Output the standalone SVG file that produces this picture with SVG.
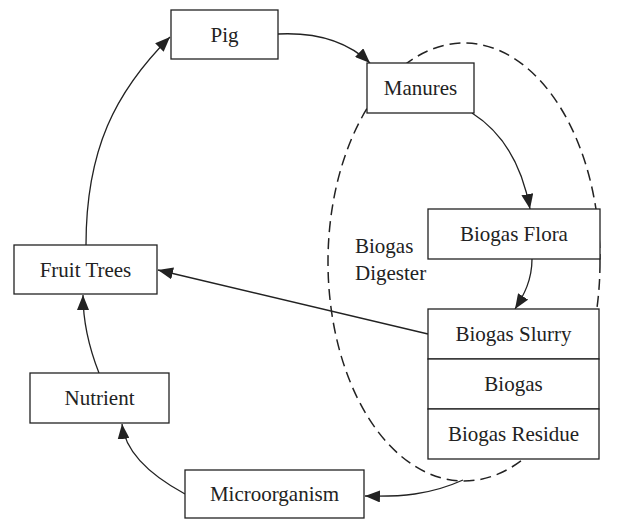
<svg xmlns="http://www.w3.org/2000/svg" width="632" height="519" viewBox="0 0 632 519">
<style>
.box{fill:#fff;stroke:#222;stroke-width:1.3}
.lbl{font-family:"Liberation Serif","Times New Roman",serif;font-size:21px;fill:#222;text-anchor:middle}
.free{font-family:"Liberation Serif","Times New Roman",serif;font-size:21px;fill:#222}
.conn{fill:none;stroke:#222;stroke-width:1.3}
.dash{fill:none;stroke:#222;stroke-width:1.5;stroke-dasharray:11 6}
</style>
<defs>
<marker id="ah" markerUnits="userSpaceOnUse" markerWidth="16" markerHeight="12" refX="15" refY="6" orient="auto">
<path d="M0,0 L15,6 L0,12 Z" fill="#222"/>
</marker>
</defs>
<rect width="632" height="519" fill="#fff"/>
<ellipse id="digester" class="dash" cx="464" cy="262" rx="136" ry="219"/>
<text class="free" x="355" y="253">Biogas</text>
<text class="free" x="355" y="280">Digester</text>
<g id="connectors">
<path class="conn" marker-end="url(#ah)" d="M86,245 C86,150 115,92 170,37"/>
<path class="conn" marker-end="url(#ah)" d="M278,34 C318,32 348,42 370,63"/>
<path class="conn" marker-end="url(#ah)" d="M472,113 C502,132 522,165 530,209"/>
<path class="conn" marker-end="url(#ah)" d="M532,259 C532,280 524,295 515,309"/>
<path class="conn" marker-end="url(#ah)" d="M428,334 L158,270"/>
<path class="conn" marker-end="url(#ah)" d="M99,373 C88,345 83,322 83,295"/>
<path class="conn" marker-end="url(#ah)" d="M185,494 C150,475 125,452 122,424"/>
<path class="conn" marker-end="url(#ah)" d="M463,480 C430,495 400,497 365,496"/>
</g>
<g id="pig"><rect class="box" x="171" y="10" width="107" height="49"/><text class="lbl" x="224.5" y="42">Pig</text></g>
<g id="manures"><rect class="box" x="367" y="63" width="107" height="50"/><text class="lbl" x="420.5" y="95">Manures</text></g>
<g id="biogas-flora"><rect class="box" x="428" y="209" width="172" height="50"/><text class="lbl" x="514" y="241">Biogas Flora</text></g>
<g id="biogas-slurry"><rect class="box" x="428" y="309" width="171" height="50"/><text class="lbl" x="513.5" y="341">Biogas Slurry</text></g>
<g id="biogas"><rect class="box" x="428" y="359" width="171" height="50"/><text class="lbl" x="513.5" y="391">Biogas</text></g>
<g id="biogas-residue"><rect class="box" x="428" y="409" width="171" height="50"/><text class="lbl" x="513.5" y="441">Biogas Residue</text></g>
<g id="fruit-trees"><rect class="box" x="14" y="245" width="143" height="49"/><text class="lbl" x="85.5" y="277">Fruit Trees</text></g>
<g id="nutrient"><rect class="box" x="30" y="373" width="139" height="50"/><text class="lbl" x="99.5" y="405">Nutrient</text></g>
<g id="microorganism"><rect class="box" x="185" y="470" width="179" height="48"/><text class="lbl" x="274.5" y="501">Microorganism</text></g>
</svg>
